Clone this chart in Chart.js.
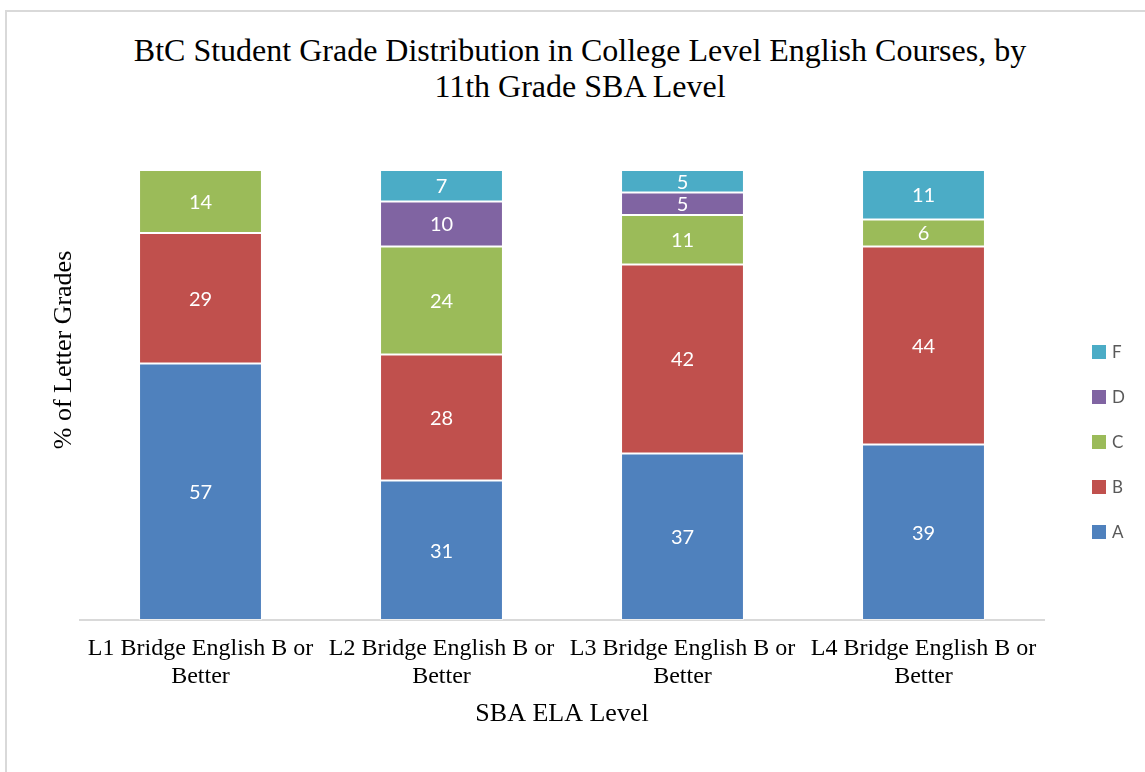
<!DOCTYPE html>
<html>
<head>
<meta charset="utf-8">
<script src="https://cdn.jsdelivr.net/npm/chart.js@4.4.1/dist/chart.umd.min.js"></script>
<style>
    html, body { margin: 0; padding: 0; background: #fff; }
    #wrap { position: relative; width: 1145px; height: 772px; overflow: hidden; }
    #frame {
        position: absolute; left: 5px; top: 10px; width: 1200px; height: 800px;
        border-left: 2px solid #d9d9d9; border-top: 2px solid #d9d9d9;
        box-sizing: border-box;
    }
    #title {
        position: absolute; left: 0; top: 32px; width: 1160px;
        text-align: center; color: #000;
        font: 32px/36px 'Liberation Serif', 'Times New Roman', serif;
    }
    #chart { position: absolute; left: 0; top: 0; }
</style>
</head>
<body>
<div id="wrap">
    <div id="frame"></div>
    <div id="title">BtC Student Grade Distribution in College Level English Courses, by<br>11th Grade SBA Level</div>
    <canvas id="chart" width="1145" height="772"></canvas>
</div>
<script>
// --- Data ---
const categories = [
    ['L1 Bridge English B or', 'Better'],
    ['L2 Bridge English B or', 'Better'],
    ['L3 Bridge English B or', 'Better'],
    ['L4 Bridge English B or', 'Better']
];
const gradeA = [57, 31, 37, 39];
const gradeB = [29, 28, 42, 44];
const gradeC = [14, 24, 11, 6];
const gradeD = [0, 10, 5, 0];
const gradeF = [0, 7, 5, 11];

// --- Styles ---
const serif = "'Liberation Serif', 'Times New Roman', serif";
const sans = "Lato, 'Noto Sans', sans-serif";

// white value labels in the middle of each segment
const segmentLabels = {
    id: 'segmentLabels',
    afterDatasetsDraw(chart) {
        const ctx = chart.ctx;
        ctx.save();
        ctx.fillStyle = '#ffffff';
        ctx.font = '20px ' + sans;
        ctx.textAlign = 'center';
        ctx.textBaseline = 'middle';
        chart.data.datasets.forEach((ds, i) => {
            const meta = chart.getDatasetMeta(i);
            meta.data.forEach((bar, j) => {
                const v = ds.data[j];
                if (!v) return;
                const p = bar.getProps(['x', 'y', 'base'], true);
                ctx.fillText(String(v), p.x, (p.y + p.base) / 2 + 1);
            });
        });
        ctx.restore();
    }
};

// legend on the right (top entry = last dataset) and the rotated y title
const sideBits = {
    id: 'sideBits',
    afterDraw(chart) {
        const ctx = chart.ctx;
        const ds = chart.data.datasets.slice().reverse();
        const boxX = 1092, boxSize = 14, startY = 352, step = 45;
        ctx.save();
        ctx.font = '17px ' + sans;
        ctx.textBaseline = 'middle';
        ctx.textAlign = 'left';
        ds.forEach((d, i) => {
            const cy = startY + i * step;
            ctx.fillStyle = d.backgroundColor;
            ctx.fillRect(boxX, cy - boxSize / 2, boxSize, boxSize);
            ctx.fillStyle = '#595959';
            ctx.fillText(d.label, boxX + boxSize + 6, cy + 1);
        });

        ctx.translate(64, 350);
        ctx.rotate(-Math.PI / 2);
        ctx.font = '26px ' + serif;
        ctx.fillStyle = '#000';
        ctx.textAlign = 'center';
        ctx.fillText('% of Letter Grades', 0, 0);
        ctx.restore();
    }
};

const makeSet = (label, data, color) => ({
    label: label,
    data: data,
    backgroundColor: color,
    borderColor: 'rgba(255,255,255,0.55)',
    borderWidth: 1,
    borderSkipped: false
});

new Chart(document.getElementById('chart'), {
    type: 'bar',
    data: {
        labels: categories,
        datasets: [
            makeSet('A', gradeA, '#4f81bd'),
            makeSet('B', gradeB, '#c0504d'),
            makeSet('C', gradeC, '#9bbb59'),
            makeSet('D', gradeD, '#8064a2'),
            makeSet('F', gradeF, '#4bacc6')
        ]
    },
    options: {
        responsive: false,
        animation: false,
        datasets: { bar: { categoryPercentage: 1, barPercentage: 0.51 } },
        layout: { padding: { left: 40, right: 101, top: 170, bottom: 45 } },
        plugins: {
            legend: { display: false },
            tooltip: { enabled: false },
            title: { display: false }
        },
        scales: {
            x: {
                stacked: true,
                grid: { display: false, drawTicks: false },
                border: { display: true, color: '#d9d9d9', width: 2 },
                ticks: {
                    color: '#000',
                    padding: 15,
                    maxRotation: 0,
                    autoSkip: false,
                    font: { family: serif, size: 24, lineHeight: 1.1667 }
                },
                title: {
                    display: true,
                    text: 'SBA ELA Level',
                    color: '#000',
                    font: { family: serif, size: 26, lineHeight: 1 },
                    padding: { top: -5, bottom: 0 }
                }
            },
            y: {
                stacked: true,
                min: 0,
                max: 100,
                grid: { display: false, drawTicks: false },
                border: { display: false },
                ticks: { display: false },
                title: { display: false },
                afterFit(scale) { scale.width = 40; }
            }
        }
    },
    plugins: [segmentLabels, sideBits]
});
</script>
</body>
</html>
